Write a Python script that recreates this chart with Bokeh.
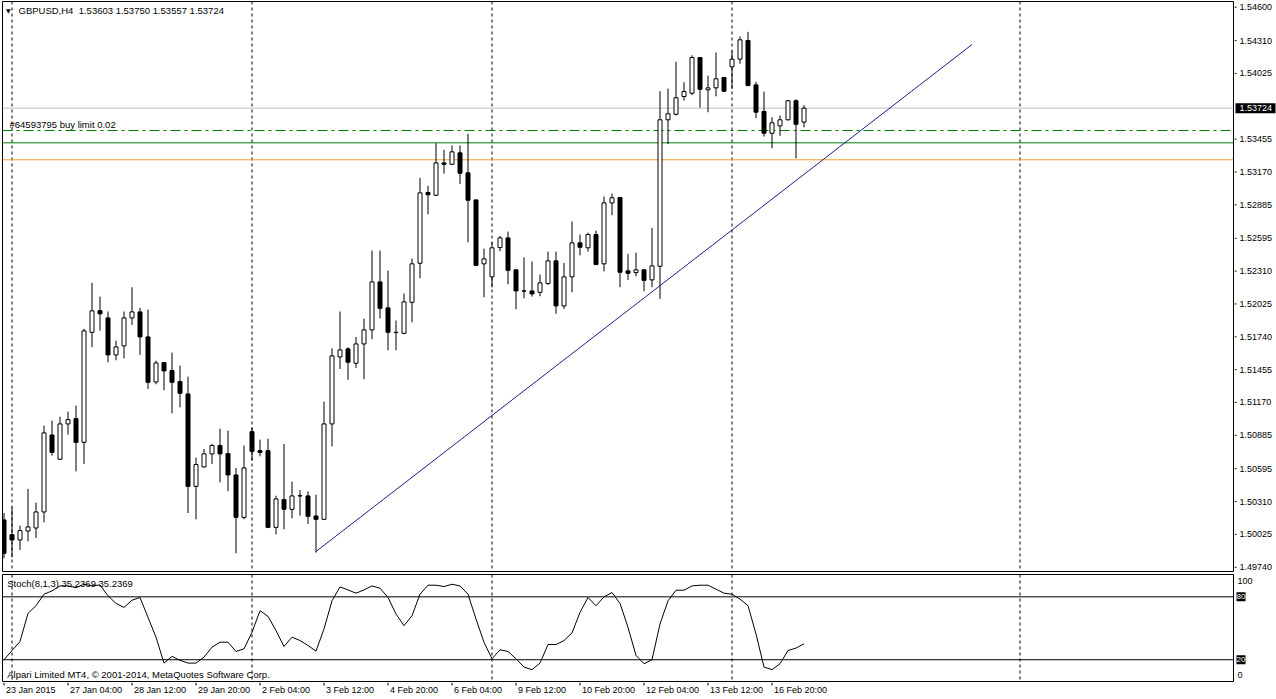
from bokeh.plotting import figure
from bokeh.layouts import column, row
from bokeh.models import ColumnDataSource, Span, Label, LabelSet, Range1d
from bokeh.core.properties import value
from bokeh.embed import file_html
from bokeh.resources import INLINE

# ---------------- data ----------------
symbol = "GBPUSD,H4"

opens = [
    1.50151, 1.50023, 1.49977, 1.50055, 1.50081, 1.50220, 1.50888, 1.50677, 1.50984, 1.51030,
    1.50824, 1.51779, 1.51967, 1.51904, 1.51583, 1.51661, 1.51904, 1.51956, 1.51739, 1.51348,
    1.51516, 1.51447, 1.51351, 1.51244, 1.50442, 1.50611, 1.50724, 1.50796, 1.50726, 1.50541,
    1.50173, 1.50917, 1.50752, 1.50752, 1.50086, 1.50327, 1.50243, 1.50359, 1.50359, 1.50185,
    1.50156, 1.50984, 1.51565, 1.51635, 1.51510, 1.51678, 1.51800, 1.52216, 1.51991, 1.51776,
    1.51770, 1.52039, 1.52378, 1.52992, 1.52968, 1.53249, 1.53237, 1.53336, 1.53163, 1.52928,
    1.52373, 1.52260, 1.52514, 1.52598, 1.52321, 1.52138, 1.52138, 1.52126, 1.52202, 1.52399,
    1.52008, 1.52260, 1.52555, 1.52512, 1.52627, 1.52373, 1.52902, 1.52948, 1.52312, 1.52297,
    1.52321, 1.52234, 1.52352, 1.53623, 1.53671, 1.53825, 1.53854, 1.54163, 1.53883, 1.53900,
    1.53990, 1.54083, 1.54149, 1.54311, 1.53926, 1.53695, 1.53506, 1.53570, 1.53623, 1.53788,
    1.53603]

highs = [
    1.50211, 1.50260, 1.50101, 1.50420, 1.50301, 1.50969, 1.51013, 1.51047, 1.51091, 1.51143,
    1.51809, 1.52208, 1.52089, 1.51959, 1.51707, 1.51959, 1.52170, 1.51991, 1.51976, 1.51533,
    1.51520, 1.51603, 1.51490, 1.51394, 1.50691, 1.50767, 1.50810, 1.50943, 1.50926, 1.50602,
    1.50796, 1.50954, 1.50848, 1.50856, 1.50361, 1.50810, 1.50483, 1.50411, 1.50399, 1.50370,
    1.51177, 1.51640, 1.51959, 1.51649, 1.51739, 1.51898, 1.52488, 1.52488, 1.52315, 1.51881,
    1.52115, 1.52419, 1.53119, 1.53050, 1.53420, 1.53362, 1.53400, 1.53400, 1.53501, 1.52930,
    1.52505, 1.52560, 1.52616, 1.52653, 1.52325, 1.52430, 1.52393, 1.52280, 1.52479, 1.52479,
    1.52381, 1.52740, 1.52627, 1.52644, 1.52662, 1.52957, 1.52983, 1.52954, 1.52459, 1.52471,
    1.52326, 1.52685, 1.53871, 1.53894, 1.54126, 1.53949, 1.54183, 1.54168, 1.54007, 1.54207,
    1.53995, 1.54218, 1.54346, 1.54386, 1.53952, 1.53868, 1.53645, 1.53660, 1.53796, 1.53801,
    1.53750]

lows = [
    1.49817, 1.49826, 1.49890, 1.49965, 1.49994, 1.50130, 1.50709, 1.50671, 1.50891, 1.50572,
    1.50637, 1.51649, 1.51794, 1.51519, 1.51536, 1.51553, 1.51843, 1.51583, 1.51288, 1.51328,
    1.51276, 1.51076, 1.51128, 1.50211, 1.50156, 1.50605, 1.50637, 1.50477, 1.50399, 1.49861,
    1.50156, 1.50665, 1.50703, 1.50080, 1.50026, 1.50069, 1.50165, 1.50188, 1.50116, 1.49867,
    1.50151, 1.50789, 1.51461, 1.51366, 1.51470, 1.51371, 1.51718, 1.51900, 1.51623, 1.51623,
    1.51762, 1.51866, 1.52248, 1.52803, 1.52960, 1.53156, 1.53229, 1.53067, 1.52560, 1.52355,
    1.52083, 1.52170, 1.52482, 1.52196, 1.51979, 1.52074, 1.52089, 1.52092, 1.52190, 1.51939,
    1.51982, 1.52126, 1.52447, 1.52479, 1.52362, 1.52308, 1.52795, 1.52170, 1.52234, 1.52265,
    1.52135, 1.52170, 1.52069, 1.53414, 1.53660, 1.53790, 1.53836, 1.53729, 1.53689, 1.53827,
    1.53862, 1.53892, 1.54109, 1.53914, 1.53637, 1.53478, 1.53376, 1.53484, 1.53617, 1.53289,
    1.53557]

closes = [
    1.49861, 1.49977, 1.50058, 1.50090, 1.50220, 1.50906, 1.50737, 1.50984, 1.51021, 1.50824,
    1.51791, 1.51965, 1.51939, 1.51583, 1.51652, 1.51904, 1.51956, 1.51739, 1.51345, 1.51513,
    1.51444, 1.51345, 1.51250, 1.50442, 1.50631, 1.50724, 1.50796, 1.50724, 1.50541, 1.50173,
    1.50602, 1.50746, 1.50737, 1.50086, 1.50333, 1.50243, 1.50359, 1.50361, 1.50182, 1.50156,
    1.50984, 1.51574, 1.51626, 1.51519, 1.51678, 1.51800, 1.52216, 1.51987, 1.51779, 1.51779,
    1.52043, 1.52373, 1.52989, 1.52972, 1.53249, 1.53237, 1.53345, 1.53159, 1.52925, 1.52360,
    1.52416, 1.52512, 1.52598, 1.52317, 1.52138, 1.52136, 1.52112, 1.52208, 1.52399, 1.52008,
    1.52260, 1.52555, 1.52517, 1.52627, 1.52367, 1.52902, 1.52946, 1.52300, 1.52291, 1.52321,
    1.52230, 1.52355, 1.53623, 1.53675, 1.53814, 1.53868, 1.54163, 1.53888, 1.53900, 1.53979,
    1.53871, 1.54149, 1.54317, 1.53920, 1.53689, 1.53506, 1.53597, 1.53623, 1.53788, 1.53584,
    1.53724]

stoch_name = "Stoch(8,1,3)"
stoch_k = [
    20.0, 28.8, 37.4, 64.2, 71.5, 82.5, 85.7, 90.4, 90.4, 88.8,
    92.0, 90.4, 91.4, 81.0, 73.7, 69.9, 76.8, 79.4, 60.4, 41.5,
    16.8, 23.2, 19.4, 16.8, 16.8, 22.5, 32.0, 36.7, 36.7, 27.9,
    30.4, 46.2, 66.7, 61.4, 47.8, 32.6, 41.5, 38.3, 33.6, 28.2,
    49.4, 76.2, 89.5, 86.6, 83.5, 86.6, 90.4, 88.2, 79.4, 63.6,
    52.5, 62.0, 82.5, 91.1, 91.1, 89.8, 92.0, 90.4, 82.5, 58.8,
    36.7, 20.9, 29.5, 27.9, 20.9, 13.0, 10.5, 16.8, 34.5, 34.5,
    38.3, 45.6, 65.2, 79.4, 71.5, 80.0, 84.1, 73.7, 50.9, 24.1,
    16.2, 20.0, 54.1, 76.2, 86.3, 86.3, 90.4, 91.1, 91.1, 87.3,
    83.5, 82.5, 77.8, 71.5, 44.6, 13.0, 10.5, 16.2, 28.8, 31.1,
    35.2369]
stoch_levels = [80, 20]
stoch_scale_labels = ["100", "0"]

price_ticks = [1.54600, 1.54310, 1.54025, 1.53455, 1.53170, 1.52885, 1.52595,
               1.52310, 1.52025, 1.51740, 1.51455, 1.51170, 1.50885, 1.50595,
               1.50310, 1.50025, 1.49740]

bid_price = 1.53724
order_price = 1.53530
order_text = "#64593795 buy limit 0.02"
hline_green = 1.53423
hline_orange = 1.53276
trend_x = [39, 121]
trend_y = [1.49877, 1.54276]
separators = [1, 31, 61, 91, 127]

date_idx = [0, 8, 16, 24, 32, 40, 48, 56, 64, 72, 80, 88, 96]
date_labels = ["23 Jan 2015", "27 Jan 04:00", "28 Jan 12:00", "29 Jan 20:00",
               "2 Feb 04:00", "3 Feb 12:00", "4 Feb 20:00", "6 Feb 04:00",
               "9 Feb 12:00", "10 Feb 20:00", "12 Feb 04:00", "13 Feb 12:00",
               "16 Feb 20:00"]
copyright_text = "Alpari Limited MT4, \u00a9 2001-2014, MetaQuotes Software Corp."

# ---------------- layout ----------------
FONT = "Liberation Sans"
FS_AX = "9px"
FS_TX = "9.5px"
W = 1276
AX_W = 42
CH_W = W - AX_W          # 1234: chart figures (frame 2..1233)
LEFT = 2
MAIN_H = 572             # frame rows 1..571
STOCH_H = 110            # frame rows 574..681
DATE_H = W and 17
PX = 8.0
FRAME_W = CH_W - LEFT - 1
x_start = -1.5 / PX
x_end = x_start + FRAME_W / PX

price_top, price_bot = 1.546495, 1.497033
MAIN_FRAME_H = MAIN_H - 2
st_top, st_bot = 101.3, -0.76
ST_FRAME_TOP = MAIN_H + 2
ST_FRAME_H = STOCH_H - 3


def px_x(px):
    return x_start + (px - LEFT) / PX


def py_price(py):
    return price_top - (py - 1) * (price_top - price_bot) / MAIN_FRAME_H


def py_stoch(py):
    return st_top - (py - ST_FRAME_TOP) * (st_top - st_bot) / ST_FRAME_H


def base_fig(**kw):
    f = figure(output_backend="svg", toolbar_location=None,
               x_axis_location=None, y_axis_location=None, **kw)
    f.grid.visible = False
    f.background_fill_color = "white"
    f.border_fill_color = "white"
    return f


n = len(opens)
idx = list(range(n))
src = ColumnDataSource(dict(
    x=idx, o=opens, h=highs, l=lows, c=closes,
    top=[max(o, c) for o, c in zip(opens, closes)],
    bottom=[min(o, c) for o, c in zip(opens, closes)],
    fill=["white" if c >= o else "black" for o, c in zip(opens, closes)],
))

# ---- main price panel ----
main = base_fig(width=CH_W, height=MAIN_H, x_range=Range1d(x_start, x_end),
                y_range=Range1d(price_bot, price_top),
                min_border_left=LEFT, min_border_right=1,
                min_border_top=1, min_border_bottom=1)
main.outline_line_color = "black"

for s in separators:
    main.add_layout(Span(location=s, dimension="height", line_color="black",
                         line_dash="3 3", line_width=1, level="underlay"))
main.add_layout(Span(location=bid_price, dimension="width", line_color="#C0C0C0",
                     line_width=1, level="underlay"))
main.add_layout(Span(location=order_price, dimension="width", line_color="#008000",
                     line_dash="10 4 3 4", line_width=1, level="underlay"))
main.add_layout(Span(location=hline_green, dimension="width", line_color="#008000",
                     line_width=1, level="underlay"))
main.add_layout(Span(location=hline_orange, dimension="width", line_color="#F0A028",
                     line_width=1, level="underlay"))

main.line(trend_x, trend_y, line_color="#1E1E8C", line_width=1)
main.segment(x0="x", y0="l", x1="x", y1="h", source=src, line_color="black", line_width=1)
main.vbar(x="x", width=0.5, top="top", bottom="bottom", source=src,
          fill_color="fill", line_color="black", line_width=1)

title_text = "%s\u00a0\u00a0%.5f %.5f %.5f %.5f" % (symbol, opens[-1], highs[-1], lows[-1], closes[-1])
main.add_layout(Label(x=px_x(5.5), y=py_price(10), text="\u25bc", text_font="DejaVu Sans",
                      text_font_size="6px", text_baseline="middle", text_color="black"))
main.add_layout(Label(x=px_x(18), y=py_price(10), text=title_text, text_font=FONT,
                      text_font_size=FS_TX, text_baseline="middle", text_color="black"))
main.add_layout(Label(x=px_x(9), y=order_price, y_offset=1, text=order_text, text_font=FONT,
                      text_font_size=FS_TX, text_baseline="bottom", text_color="black"))

# ---- price scale (right) ----
pax = base_fig(width=AX_W, height=MAIN_H, x_range=Range1d(0, AX_W),
               y_range=main.y_range, min_border_left=0, min_border_right=0,
               min_border_top=1, min_border_bottom=1)
pax.outline_line_color = None
psrc = ColumnDataSource(dict(y=price_ticks, t=["%.5f" % v for v in price_ticks]))
pax.segment(x0=0, x1=2, y0="y", y1="y", source=psrc, line_color="black", line_width=1)
pax.text(x=5, y="y", text="t", source=psrc, text_font=value(FONT),
         text_font_size=value(FS_AX), text_baseline="middle", text_color="black")
bsrc = ColumnDataSource(dict(y=[bid_price], t=["%.5f" % bid_price]))
pax.rect(x=21, y="y", width=40, height=10, height_units="screen", source=bsrc,
         fill_color="black", line_color=None)
pax.text(x=5, y="y", text="t", source=bsrc, text_font=value(FONT),
         text_font_size=value(FS_AX), text_baseline="middle", text_color="white")

# ---- stochastic panel ----
stoch = base_fig(width=CH_W, height=STOCH_H, x_range=main.x_range,
                 y_range=Range1d(st_bot, st_top),
                 min_border_left=LEFT, min_border_right=1,
                 min_border_top=2, min_border_bottom=1)
stoch.outline_line_color = "black"
for s in separators:
    stoch.add_layout(Span(location=s, dimension="height", line_color="black",
                          line_dash="3 3", line_width=1, level="underlay"))
for lv in stoch_levels:
    stoch.add_layout(Span(location=lv, dimension="width", line_color="black",
                          line_width=1, level="underlay"))
stoch.line(idx, stoch_k, line_color="black", line_width=1)

stoch_text = "%s %.4f %.4f" % (stoch_name, stoch_k[-1], stoch_k[-1])
stoch.add_layout(Label(x=px_x(6.7), y=py_stoch(582.7), text=stoch_text, text_font=FONT,
                       text_font_size=FS_TX, text_baseline="middle", text_color="black"))
stoch.add_layout(Label(x=px_x(6.7), y=py_stoch(674), text=copyright_text, text_font=FONT,
                       text_font_size=FS_TX, text_baseline="middle", text_color="black"))

# ---- stochastic scale (right) ----
sax = base_fig(width=AX_W, height=STOCH_H, x_range=Range1d(0, AX_W),
               y_range=stoch.y_range, min_border_left=0, min_border_right=0,
               min_border_top=2, min_border_bottom=1)
sax.outline_line_color = None
ssrc = ColumnDataSource(dict(y=[py_stoch(580), py_stoch(674)], t=stoch_scale_labels))
sax.text(x=3, y="y", text="t", source=ssrc, text_font=value(FONT),
         text_font_size=value(FS_AX), text_baseline="middle", text_color="black")
lsrc = ColumnDataSource(dict(y=stoch_levels, t=["%d" % v for v in stoch_levels]))
sax.rect(x=6.5, y="y", width=9, height=9, height_units="screen", source=lsrc,
         fill_color="black", line_color=None)
sax.text(x=6.5, y="y", text="t", source=lsrc, text_font=value(FONT),
         text_font_size=value("8px"), text_align="center", text_baseline="middle",
         text_color="white")

# ---- time scale ----
dates = base_fig(width=W, height=DATE_H, x_range=Range1d(x_start, x_start + (W - LEFT) / PX),
                 y_range=Range1d(0, DATE_H), min_border_left=LEFT, min_border_right=0,
                 min_border_top=0, min_border_bottom=0)
dates.outline_line_color = None
dsrc = ColumnDataSource(dict(x=date_idx, t=date_labels))
dates.segment(x0="x", x1="x", y0=DATE_H, y1=DATE_H - 3, source=dsrc,
              line_color="black", line_width=1)
dates.text(x="x", y=DATE_H - 7, text="t", source=dsrc, x_offset=2,
           text_font=value(FONT), text_font_size=value(FS_AX),
           text_align="left", text_baseline="middle", text_color="black")

layout = column(row(main, pax, spacing=0), row(stoch, sax, spacing=0), dates, spacing=0)
open("out.html", "w").write(file_html(layout, INLINE))
